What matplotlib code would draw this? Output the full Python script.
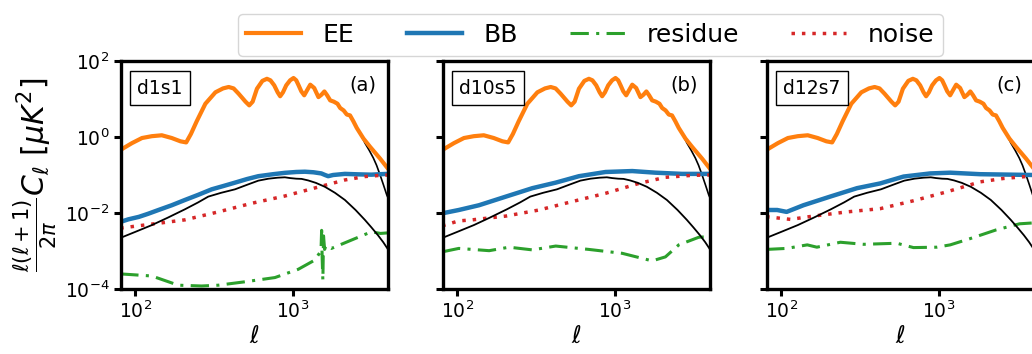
import matplotlib
matplotlib.use("Agg")
import matplotlib.pyplot as plt
from matplotlib.ticker import NullLocator

# --- observed EE (same in every panel) ---
ell_ee = [80, 84, 95, 110, 127, 147, 170, 193, 210, 225, 245, 278, 322, 360, 391,
          420, 452, 500, 528, 555, 591, 640, 684, 720, 761, 800, 830, 865, 907, 960,
          1009, 1050, 1087, 1130, 1180, 1230, 1289, 1365, 1453, 1520, 1585, 1650,
          1725, 1820, 1920, 1996, 2100, 2200, 2306, 2420, 2545, 2806, 3093, 3580, 4000]
ee = [0.45, 0.51, 0.69, 0.94, 1.05, 1.11, 0.94, 0.77, 0.72, 1.2, 2.6, 7.5, 15, 19, 20.7,
      19, 13.8, 8.5, 6.8, 8.5, 18.6, 30, 34, 31, 22.9, 15, 11.8, 15, 22.9, 31,
      35.7, 31, 22.9, 16, 12.5, 17, 23.8, 19.5, 11.2, 13, 15.8, 12.5,
      9.2, 8.5, 7.5, 5.8, 5.0, 3.9, 3.7, 2.6, 1.73, 0.91, 0.55, 0.27, 0.15]

# --- theory EE damping tail ---
ell_ee_th = [2200, 2306, 2420, 2545, 2700, 2870, 3050, 3243, 3400, 3580, 3760, 3945, 4020]
ee_th = [3.9, 3.6, 2.6, 1.8, 1.15, 0.69, 0.45, 0.28, 0.18, 0.10, 0.055, 0.030, 0.025]

# --- theory BB ---
ell_bb_th = [80, 100, 127, 160, 206, 250, 290, 350, 429, 510, 603, 700, 800, 889, 960,
             1050, 1135, 1250, 1400, 1596, 1850, 2140, 2500, 2864, 3150, 3470, 3750, 4020]
bb_th = [0.0022, 0.0032, 0.0048, 0.0075, 0.0125, 0.019, 0.027, 0.034, 0.042, 0.055,
         0.071, 0.080, 0.085, 0.087, 0.083, 0.080, 0.079, 0.072, 0.062, 0.049,
         0.034, 0.022, 0.012, 0.0066, 0.0042, 0.0026, 0.0017, 0.0011]

# --- d1s1 ---
ell_bb_a = [80, 90, 105, 120, 140, 170, 206, 250, 305, 360, 429, 510, 603, 750, 889,
            1050, 1192, 1350, 1515, 1600, 1675, 1800, 2140, 2600, 3150, 3600, 4020]
bb_a = [0.0058, 0.0068, 0.0079, 0.0095, 0.012, 0.016, 0.022, 0.030, 0.042, 0.051,
        0.063, 0.078, 0.093, 0.105, 0.114, 0.12, 0.122, 0.118, 0.11, 0.10,
        0.093, 0.10, 0.107, 0.104, 0.102, 0.105, 0.107]
ell_noise_a = [80, 127, 206, 336, 547, 889, 1445, 2140, 2864, 3500, 4020]
noise_a = [0.0040, 0.0051, 0.0066, 0.0107, 0.018, 0.028, 0.048, 0.074, 0.091, 0.097, 0.10]
ell_res_a = [80, 127, 187, 263, 336, 497, 769, 1081, 1381, 1480, 1510, 1522, 1535,
             1550, 1565, 1590, 1620, 1757, 2355, 3150, 3600, 4020]
res_a = [0.00025, 0.00022, 0.000126, 0.00012, 0.000126, 0.000155, 0.0002, 0.00033,
         0.00058, 0.0009, 0.0012, 0.0035, 0.0006, 0.00017, 0.0025, 0.0011, 0.0014,
         0.00117, 0.00194, 0.0032, 0.0029, 0.003]

# --- d10s5 ---
ell_bb_b = [80, 102, 137, 203, 299, 421, 591, 873, 1289, 1812, 2673, 4020]
bb_b = [0.0098, 0.012, 0.016, 0.027, 0.045, 0.063, 0.093, 0.12, 0.127, 0.115, 0.107, 0.107]
ell_noise_b = [80, 102, 124, 203, 330, 536, 873, 1419, 2094, 3090, 4020]
noise_b = [0.0046, 0.0062, 0.0066, 0.0083, 0.012, 0.020, 0.033, 0.060, 0.087, 0.098, 0.10]
ell_res_b = [80, 102, 159, 213, 299, 421, 684, 1112, 1725, 2094, 2546, 3410, 4020]
res_b = [0.00095, 0.00117, 0.00102, 0.00126, 0.00107, 0.00135, 0.0011, 0.00087,
         0.00055, 0.0007, 0.00145, 0.0023, 0.0024]

# --- d12s7 ---
ell_bb_c = [80, 94, 108, 138, 204, 302, 424, 597, 881, 1181, 1829, 4020]
bb_c = [0.012, 0.012, 0.0107, 0.016, 0.027, 0.045, 0.06, 0.091, 0.11, 0.115, 0.105, 0.10]
ell_noise_c = [80, 114, 160, 261, 424, 690, 1122, 1829, 2570, 3793, 4020]
noise_c = [0.0080, 0.0068, 0.0083, 0.0107, 0.013, 0.021, 0.036, 0.066, 0.081, 0.093, 0.094]
ell_res_c = [80, 108, 146, 168, 237, 333, 541, 690, 970, 1181, 1571, 2317, 3260, 4020]
res_c = [0.0011, 0.00117, 0.00145, 0.00126, 0.0017, 0.0015, 0.0016, 0.00123,
         0.00126, 0.00145, 0.0021, 0.0036, 0.0052, 0.0055]

models = ["d1s1", "d10s5", "d12s7"]
tags = ["(a)", "(b)", "(c)"]
panels = [
    (ell_bb_a, bb_a, ell_res_a, res_a, ell_noise_a, noise_a),
    (ell_bb_b, bb_b, ell_res_b, res_b, ell_noise_b, noise_b),
    (ell_bb_c, bb_c, ell_res_c, res_c, ell_noise_c, noise_c),
]

fig = plt.figure(figsize=(10.32, 3.54), dpi=100)
lefts = [0.1173, 0.4293, 0.7432]

for i, (left, model, tag, p) in enumerate(zip(lefts, models, tags, panels)):
    l_bb, bb, l_res, res, l_noise, noise = p
    ax = fig.add_axes([left, 0.1836, 0.2587, 0.6441])

    ax.plot(ell_ee_th, ee_th, color="black", lw=1.2, zorder=1)
    ax.plot(ell_ee, ee, color="#ff7f0e", lw=3.0, label="EE", zorder=2)
    ax.plot(l_bb, bb, color="#1f77b4", lw=3.2, label="BB", zorder=2)
    ax.plot(l_res, res, color="#2ca02c", lw=2.2, ls=(0, (6, 2.4, 1, 2.4)),
            label="residue", zorder=2)
    ax.plot(l_noise, noise, color="#d62728", lw=2.5, ls=(0, (1, 2)),
            label="noise", zorder=2)
    ax.plot(ell_bb_th, bb_th, color="black", lw=1.3, zorder=3)

    ax.set_xscale("log")
    ax.set_yscale("log")
    ax.set_xlim(81, 4020)
    ax.set_ylim(1e-4, 1e2)
    ax.set_xticks([100, 1000])
    ax.set_yticks([1e-4, 1e-2, 1, 1e2])
    ax.xaxis.set_minor_locator(NullLocator())
    ax.yaxis.set_minor_locator(NullLocator())
    ax.tick_params(labelsize=13.5, width=2.2, length=5)
    if i > 0:
        ax.set_yticklabels([])
    for s in ax.spines.values():
        s.set_linewidth(2.4)

    ax.set_xlabel(r"$\ell$", fontsize=17, labelpad=1)
    ax.text(0.06, 0.88, model, transform=ax.transAxes, fontsize=13.5,
            ha="left", va="center",
            bbox=dict(boxstyle="square,pad=0.4", fc="white", ec="black", lw=1))
    ax.text(0.955, 0.895, tag, transform=ax.transAxes, fontsize=14,
            ha="right", va="center")

    if i == 0:
        ax.set_ylabel(r"$\frac{\ell(\ell+1)}{2\pi}C_\ell\ [\mu K^2]$", fontsize=21.5,
                      labelpad=4)
        handles, labels = ax.get_legend_handles_labels()

fig.legend(handles, labels, loc="upper center", bbox_to_anchor=(0.572, 0.995),
           ncol=4, fontsize=18, handlelength=2.2, handletextpad=0.85,
           columnspacing=2.1, borderpad=0.35, fancybox=True, edgecolor="#cccccc")

fig.savefig("out.png", dpi=100)
